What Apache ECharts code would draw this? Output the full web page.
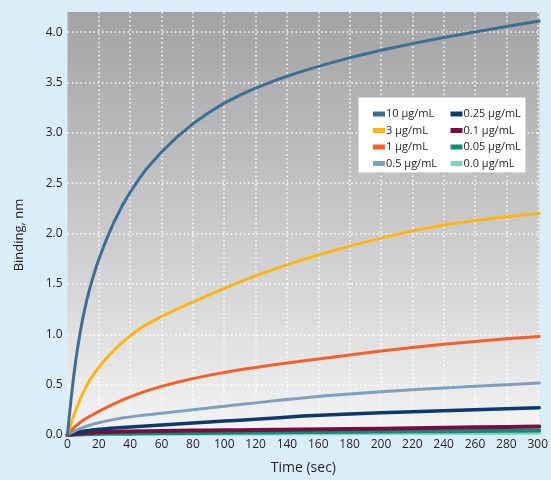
<!DOCTYPE html>
<html><head><meta charset="utf-8">
<script src="https://cdn.jsdelivr.net/npm/echarts@6/dist/echarts.min.js"></script>
<style>html,body{margin:0;padding:0;background:#dcedfa;}#c{width:551px;height:480px;}</style>
</head><body><div id="c"></div>
<script>
// Time points (sec)
const times = [0, 1, 2, 3, 4, 5, 6, 8, 10, 12, 14, 16, 18, 20, 23, 26, 30, 35, 40, 45, 50, 60, 70, 80, 90, 100, 110, 120, 135, 150, 165, 180, 200, 220, 240, 260, 280, 301];
// Binding (nm) per concentration
const s10  = [0, 0.164, 0.317, 0.458, 0.588, 0.708, 0.818, 1.012, 1.178, 1.32, 1.443, 1.553, 1.653, 1.745, 1.87, 1.985, 2.125, 2.28, 2.41, 2.527, 2.635, 2.81, 2.96, 3.09, 3.20, 3.295, 3.375, 3.445, 3.535, 3.613, 3.682, 3.745, 3.82, 3.886, 3.946, 4.002, 4.056, 4.11];
const s3   = [0, 0.051, 0.10, 0.147, 0.192, 0.235, 0.276, 0.353, 0.421, 0.482, 0.537, 0.586, 0.631, 0.672, 0.73, 0.783, 0.847, 0.92, 0.984, 1.042, 1.094, 1.178, 1.252, 1.32, 1.388, 1.455, 1.52, 1.58, 1.665, 1.74, 1.81, 1.875, 1.955, 2.025, 2.085, 2.13, 2.168, 2.20];
const s1   = [0, 0.02, 0.039, 0.056, 0.072, 0.087, 0.10, 0.124, 0.146, 0.166, 0.184, 0.201, 0.218, 0.234, 0.258, 0.281, 0.311, 0.346, 0.379, 0.408, 0.435, 0.483, 0.524, 0.56, 0.592, 0.621, 0.647, 0.671, 0.704, 0.735, 0.765, 0.795, 0.833, 0.869, 0.901, 0.929, 0.955, 0.978];
const s05  = [0, 0.01, 0.019, 0.028, 0.036, 0.044, 0.051, 0.064, 0.076, 0.087, 0.097, 0.106, 0.114, 0.122, 0.133, 0.143, 0.155, 0.168, 0.18, 0.19, 0.199, 0.216, 0.233, 0.25, 0.268, 0.285, 0.302, 0.319, 0.344, 0.367, 0.389, 0.408, 0.429, 0.449, 0.467, 0.484, 0.50, 0.516];
const s025 = [0, 0.005, 0.01, 0.015, 0.02, 0.024, 0.027, 0.033, 0.038, 0.042, 0.046, 0.05, 0.053, 0.056, 0.06, 0.064, 0.069, 0.075, 0.08, 0.085, 0.09, 0.10, 0.11, 0.12, 0.13, 0.138, 0.147, 0.156, 0.172, 0.188, 0.198, 0.208, 0.22, 0.23, 0.24, 0.25, 0.26, 0.27];
const s01  = [0, 0.002, 0.004, 0.006, 0.008, 0.01, 0.012, 0.015, 0.018, 0.02, 0.022, 0.024, 0.025, 0.027, 0.029, 0.03, 0.032, 0.034, 0.035, 0.037, 0.038, 0.04, 0.042, 0.044, 0.045, 0.047, 0.048, 0.05, 0.052, 0.055, 0.057, 0.06, 0.063, 0.067, 0.072, 0.076, 0.08, 0.085];
const s005 = [0, 0.001, 0.002, 0.003, 0.004, 0.005, 0.006, 0.007, 0.008, 0.009, 0.01, 0.011, 0.012, 0.012, 0.013, 0.014, 0.015, 0.016, 0.016, 0.017, 0.018, 0.019, 0.02, 0.021, 0.022, 0.023, 0.024, 0.025, 0.027, 0.029, 0.03, 0.032, 0.034, 0.036, 0.038, 0.04, 0.042, 0.045];
const s00  = [0, 0.001, 0.002, 0.003, 0.004, 0.004, 0.005, 0.006, 0.006, 0.007, 0.007, 0.008, 0.008, 0.009, 0.009, 0.01, 0.01, 0.011, 0.011, 0.012, 0.012, 0.013, 0.013, 0.014, 0.014, 0.015, 0.015, 0.016, 0.016, 0.017, 0.017, 0.018, 0.019, 0.019, 0.02, 0.021, 0.021, 0.022];
const names = ['10 μg/mL', '3 μg/mL', '1 μg/mL', '0.5 μg/mL', '0.25 μg/mL', '0.1 μg/mL', '0.05 μg/mL', '0.0 μg/mL'];
const values = [s10, s3, s1, s05, s025, s01, s005, s00];
const colors = ['#3b7094', '#fbb615', '#f3602a', '#7f9fbf', '#0b3b6b', '#7a0c40', '#0f8c78', '#80d2c6'];
const widths = [3, 3, 3, 3, 3.5, 4, 4, 4];

const FONT = '"Open Sans", "Noto Sans", sans-serif';
const chart = echarts.init(document.getElementById('c'), null, {renderer: 'canvas'});
const series = [];
for (let i = values.length - 1; i >= 0; i--) {
  series.push({
    name: names[i], type: 'line', smooth: false, showSymbol: false,
    data: times.map((t, k) => [t, values[i][k]]),
    lineStyle: {color: colors[i], width: widths[i], join: 'round', cap: 'round'}, itemStyle: {color: colors[i]},
    z: 10 - i
  });
}
const legendCommon = {
  orient: 'vertical', icon: 'rect', itemWidth: 12, itemHeight: 5, itemGap: 4.5,
  textStyle: {fontFamily: FONT, fontSize: 11, color: '#231f20', padding: [0, 0, 0, -4], lineHeight: 12}
};
const gridLine = {show: true, showMinLine: false, showMaxLine: false,
  lineStyle: {color: 'rgba(255,255,255,0.95)', width: 1.5, type: [1.5, 2.8]}};
chart.setOption({
  backgroundColor: '#dcedfa',
  animation: false,
  color: colors,
  grid: {left: 67.5, right: 7.7, top: 12, bottom: 42, show: true, borderWidth: 0, z: -1,
    backgroundColor: {type: 'linear', x: 0, y: 0, x2: 0, y2: 1,
      colorStops: [{offset: 0, color: '#a3a3a6'}, {offset: 0.5, color: '#c9c9cb'}, {offset: 1, color: '#f4f4f4'}]}},
  graphic: [
    {type: 'rect', left: 358, top: 97, shape: {width: 167, height: 75}, style: {fill: '#ffffff', stroke: '#d8d8d8', lineWidth: 1}, z: 50},
    {type: 'text', x: 19, y: 235, rotation: Math.PI / 2,
      style: {text: 'Binding, nm', font: '13px ' + FONT, fill: '#231f20', align: 'center', verticalAlign: 'middle'}, z: 50}
  ],
  legend: [
    Object.assign({}, legendCommon, {left: 368, top: 103, data: names.slice(0, 4), z: 60}),
    Object.assign({}, legendCommon, {left: 445.5, top: 103, data: names.slice(4), z: 60})
  ],
  xAxis: {
    type: 'value', min: 0, max: 301, interval: 20,
    name: 'Time (sec)', nameLocation: 'middle', nameGap: 26,
    nameTextStyle: {fontFamily: FONT, fontSize: 14, color: '#231f20'},
    axisLine: {show: false}, axisTick: {show: false},
    axisLabel: {fontFamily: FONT, fontSize: 12, color: '#231f20', margin: 4,
      formatter: v => (v > 300 ? '' : String(v))},
    splitLine: gridLine
  },
  yAxis: {
    type: 'value', min: 0, max: 4.2, interval: 0.5,
    axisLine: {show: false}, axisTick: {show: false},
    axisLabel: {fontFamily: FONT, fontSize: 12, color: '#231f20', margin: 5,
      formatter: v => (v > 4.0 ? '' : v.toFixed(1))},
    splitLine: gridLine
  },
  series: series
});
</script></body></html>
